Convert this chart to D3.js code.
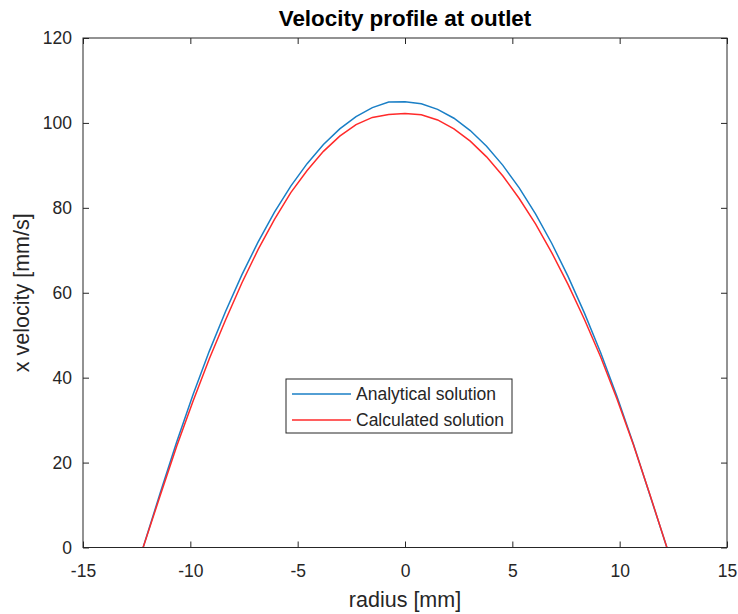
<!DOCTYPE html>
<html><head><meta charset="utf-8">
<script src="https://cdn.jsdelivr.net/npm/d3@7"></script>
<style>
body{margin:0;background:#fff;}
text{font-family:"Liberation Sans",Arial,Helvetica,sans-serif;}
</style></head>
<body><svg id="chart" width="738" height="614"></svg>
<script>
const radius = [-12.2,-11.4,-10.64,-9.88,-9.12,-8.36,-7.6,-6.84,-6.08,-5.32,-4.56,-3.8,-3.04,-2.28,-1.52,-0.76,0,0.76,1.52,2.28,3.04,3.8,4.56,5.32,6.08,6.84,7.6,8.36,9.12,9.88,10.64,11.4,12.2];
const analytical = [0,12.9,24.8,35.9,46.2,55.6,64.2,72.0,79.0,85.1,90.4,94.9,98.6,101.5,103.6,104.9,105.0,104.5,103.2,101.1,98.2,94.5,90.0,84.7,78.6,71.6,63.8,55.2,45.8,35.5,24.4,12.5,0];
const calculated = [0,12.3,23.8,34.4,44.4,53.6,62.3,70.2,77.3,83.6,88.8,93.3,96.9,99.6,101.3,102.0,102.2,101.9,100.7,98.6,95.7,92.0,87.5,82.2,76.2,69.4,61.9,53.7,44.8,34.9,24.2,12.6,0];
const xTicks = [-15,-10,-5,0,5,10,15];
const yTicks = [0,20,40,60,80,100,120];
const seriesNames = ["Analytical solution","Calculated solution"];
const seriesColors = ["#1a7fc6","#ff2a2a"];

const svg = d3.select("#chart");
const L=83, R=727, T=38, B=547.5;
const x = d3.scaleLinear().domain([-15,15]).range([L,R]);
const y = d3.scaleLinear().domain([0,120]).range([B,T]);
const axisColor = "#262626";

svg.append("defs").append("clipPath").attr("id","clip")
  .append("rect").attr("x",L).attr("y",T).attr("width",R-L).attr("height",B-T);

const line = d3.line().x(d=>x(d[0])).y(d=>y(d[1]));
[analytical, calculated].forEach((vals,i)=>{
  svg.append("path")
    .datum(radius.map((r,j)=>[r,vals[j]]))
    .attr("d",line).attr("fill","none")
    .attr("stroke",seriesColors[i]).attr("stroke-width",1.5)
    .attr("clip-path","url(#clip)");
});

function styleAxis(g){
  g.select(".domain").remove();
  g.selectAll(".tick line").attr("stroke",axisColor);
  g.selectAll(".tick text").attr("fill",axisColor).attr("font-size",17.5);
}
const fmt = d => String(d);
svg.append("g").attr("transform",`translate(0,${B})`)
  .call(d3.axisBottom(x).tickValues(xTicks).tickSize(-6).tickPadding(17).tickFormat(fmt))
  .call(styleAxis);
svg.append("g").attr("transform",`translate(0,${T})`)
  .call(d3.axisTop(x).tickValues(xTicks).tickSize(-6).tickFormat(""))
  .call(styleAxis);
svg.append("g").attr("transform",`translate(${L},0)`)
  .call(d3.axisLeft(y).tickValues(yTicks).tickSize(-6).tickPadding(11).tickFormat(fmt))
  .call(styleAxis);
svg.append("g").attr("transform",`translate(${R},0)`)
  .call(d3.axisRight(y).tickValues(yTicks).tickSize(-6).tickFormat(""))
  .call(styleAxis);

svg.append("rect").attr("x",L).attr("y",T).attr("width",R-L).attr("height",B-T)
  .attr("fill","none").attr("stroke",axisColor).attr("stroke-width",1);

svg.append("text").attr("x",(L+R)/2).attr("y",26).attr("text-anchor","middle")
  .attr("font-size",22.4).attr("font-weight","bold").attr("fill","#000")
  .text("Velocity profile at outlet");
svg.append("text").attr("x",(L+R)/2).attr("y",607).attr("text-anchor","middle")
  .attr("font-size",21.5).attr("fill",axisColor).text("radius [mm]");
svg.append("text").attr("transform",`translate(29,${(T+B)/2}) rotate(-90)`)
  .attr("text-anchor","middle").attr("font-size",21.5).attr("fill",axisColor)
  .text("x velocity [mm/s]");

const lg = svg.append("g");
lg.append("rect").attr("x",286).attr("y",379).attr("width",226).attr("height",54)
  .attr("fill","#fff").attr("stroke",axisColor).attr("stroke-width",1);
seriesNames.forEach((n,i)=>{
  const cy = 394 + i*26;
  lg.append("line").attr("x1",292).attr("x2",351).attr("y1",cy).attr("y2",cy)
    .attr("stroke",seriesColors[i]).attr("stroke-width",1.5);
  lg.append("text").attr("x",356).attr("y",cy+6).attr("font-size",17.5)
    .attr("fill",axisColor).text(n);
});
</script></body></html>
